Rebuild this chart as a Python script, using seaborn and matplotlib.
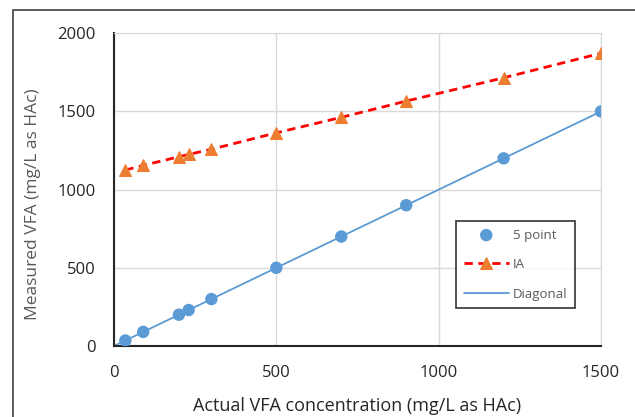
import matplotlib
matplotlib.use("Agg")
import matplotlib.pyplot as plt
import seaborn as sns
import pandas as pd
from matplotlib.patches import Rectangle

actual = [35, 90, 200, 230, 300, 500, 700, 900, 1200, 1500]
five_point = [35, 90, 200, 230, 300, 500, 700, 900, 1200, 1500]
ia = [1125, 1155, 1210, 1225, 1258, 1363, 1462, 1566, 1715, 1872]
diag_x = [0, 1500]
diag_y = [0, 1500]

sns.set_style("white")
plt.rcParams['font.family'] = ['Open Sans', 'DejaVu Sans']

fig = plt.figure(figsize=(6.35, 4.17), dpi=100)
ax = fig.add_axes([0.1795, 0.1703, 0.767, 0.75])

df = pd.DataFrame({'x': actual, 'five': five_point, 'ia': ia})

sns.lineplot(x=diag_x, y=diag_y, ax=ax, color='#5B9BD5', linewidth=1.3,
             label='Diagonal', zorder=2)
sns.lineplot(data=df, x='x', y='ia', ax=ax, color='#FF0000', linestyle='--',
             linewidth=2, dashes=False, marker='^', markersize=8,
             markerfacecolor='#ED7D31', markeredgecolor='#ED7D31',
             label='IA', zorder=3)
ax.lines[-1].set_dashes([3, 2])
sns.scatterplot(data=df, x='x', y='five', ax=ax, color='#5B9BD5', s=80,
                edgecolor='none', label='5 point', zorder=4)

ax.set_xlim(0, 1500)
ax.set_ylim(0, 2000)
ax.set_xticks([0, 500, 1000, 1500])
ax.set_yticks([0, 500, 1000, 1500, 2000])
ax.grid(True, color='#D9D9D9', linewidth=1)
ax.set_axisbelow(True)
for s in ['top', 'right']:
    ax.spines[s].set_color('#D9D9D9')
for s in ['left', 'bottom']:
    ax.spines[s].set_color('#262626')
    ax.spines[s].set_linewidth(1.5)
ax.tick_params(axis='both', labelsize=12, colors='#262626', length=0)
ax.tick_params(axis='x', pad=14)
ax.tick_params(axis='y', pad=13)

ax.set_xlabel('Actual VFA concentration (mg/L as HAc)', fontsize=13,
              color='#262626', labelpad=11.5)
ax.set_ylabel('Measured VFA (mg/L as HAc)', fontsize=12.5, color='#595959')
ax.yaxis.set_label_coords(-0.150, 0.454)

handles, labels = ax.get_legend_handles_labels()
order = [labels.index('5 point'), labels.index('IA'), labels.index('Diagonal')]
leg = ax.legend([handles[i] for i in order], [labels[i] for i in order],
                loc='upper left', bbox_to_anchor=(0.702, 0.4007), frameon=True,
                fancybox=False, edgecolor='black', fontsize=9.5,
                labelcolor='#595959', borderpad=0.6, labelspacing=1.25,
                handlelength=3.4, handletextpad=0.3, borderaxespad=0)
leg.get_frame().set_linewidth(1.2)

fig.patches.append(Rectangle((13 / 635, -0.1), 1.2, 1 - 10 / 417 + 0.1,
                             transform=fig.transFigure, fill=False,
                             edgecolor='#404040', linewidth=1.2))

fig.savefig('out.png', dpi=100)
